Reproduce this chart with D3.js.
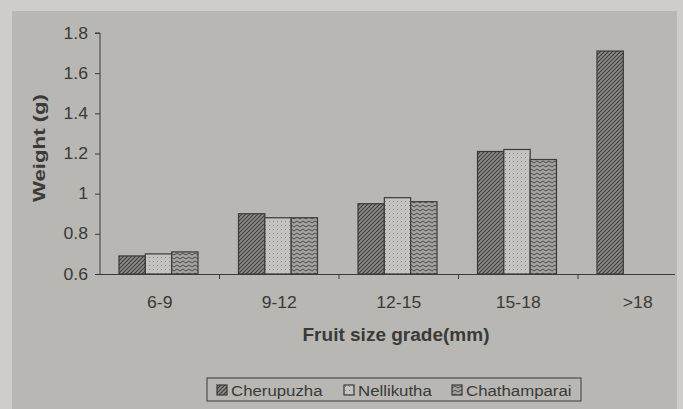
<!DOCTYPE html>
<html>
<head>
<meta charset="utf-8">
<script src="https://cdn.jsdelivr.net/npm/d3@7"></script>
<style>
  body { margin: 0; background: #cecdc9; }
  svg { display: block; font-family: "Liberation Sans", Arial, sans-serif; }
</style>
</head>
<body>
<div id="chart"></div>
<script>
// data
var grades = ["6-9", "9-12", "12-15", "15-18", ">18"];
var varieties = ["Cherupuzha", "Nellikutha", "Chathamparai"];
var cherupuzha = [0.69, 0.90, 0.95, 1.21, 1.71];
var nellikutha = [0.70, 0.88, 0.98, 1.22, null];
var chathamparai = [0.71, 0.88, 0.96, 1.17, null];
var yTicks = [0.6, 0.8, 1, 1.2, 1.4, 1.6, 1.8];

var series = [cherupuzha, nellikutha, chathamparai];

var W = 683, H = 409;
var svg = d3.select("#chart").append("svg")
  .attr("width", W).attr("height", H);

// the printed text is a bit wider than plain Arial, stretch it
function widen(sel, k) {
  sel.each(function () {
    var len = this.getComputedTextLength();
    d3.select(this).attr("textLength", len * k).attr("lengthAdjust", "spacingAndGlyphs");
  });
}

// patterns
var defs = svg.append("defs");
var p1 = defs.append("pattern").attr("id", "pat0")
  .attr("width", 4).attr("height", 4).attr("patternUnits", "userSpaceOnUse");
p1.append("rect").attr("width", 4).attr("height", 4).attr("fill", "#8e8d8a");
p1.append("path").attr("d", "M-1,1 L1,-1 M0,4 L4,0 M3,5 L5,3")
  .attr("stroke", "#3b3a38").attr("stroke-width", 1.1);

var p2 = defs.append("pattern").attr("id", "pat1")
  .attr("width", 4).attr("height", 4).attr("patternUnits", "userSpaceOnUse");
p2.append("rect").attr("width", 4).attr("height", 4).attr("fill", "#c4c3bf");
p2.append("rect").attr("x", 1).attr("y", 1).attr("width", 1).attr("height", 1).attr("fill", "#8a8986");

var p3 = defs.append("pattern").attr("id", "pat2")
  .attr("width", 6).attr("height", 4).attr("patternUnits", "userSpaceOnUse");
p3.append("rect").attr("width", 6).attr("height", 4).attr("fill", "#a3a29e");
p3.append("path").attr("d", "M0,3 L3,1 L6,3")
  .attr("stroke", "#4a4946").attr("stroke-width", 1).attr("fill", "none");

// chart frame (darker printed area)
svg.append("rect").attr("x", 12).attr("y", 11).attr("width", 665).attr("height", 398)
  .attr("fill", "#b8b7b3");

var x0 = d3.scaleBand().domain(grades).range([100, 697.5]);
var x1 = d3.scaleBand().domain(d3.range(3)).range([19, 98]).paddingInner(0);
var y = d3.scaleLinear().domain([0.6, 1.8]).range([274, 33]);

var ink = "#3a3a38";

// bars
var g = svg.append("g");
grades.forEach(function (gr, i) {
  series.forEach(function (s, j) {
    if (s[i] == null) return;
    g.append("rect")
      .attr("x", x0(gr) + x1(j))
      .attr("y", y(s[i]))
      .attr("width", x1.bandwidth())
      .attr("height", y(0.6) - y(s[i]))
      .attr("fill", "url(#pat" + j + ")")
      .attr("stroke", ink).attr("stroke-width", 1.2);
  });
});

// y axis
var yAxis = svg.append("g").attr("transform", "translate(100,0)")
  .call(d3.axisLeft(y).tickValues(yTicks).tickSize(5).tickFormat(d3.format("")));
yAxis.select(".domain").attr("stroke", ink).attr("d", "M-5," + y(1.8) + "H0V" + y(0.6));
yAxis.selectAll(".tick line").attr("stroke", ink);
yAxis.selectAll(".tick text").attr("fill", ink).attr("font-size", 16).attr("x", -12);
widen(yAxis.selectAll(".tick text"), 1.1);

// x axis
var xAxis = svg.append("g").attr("transform", "translate(0,274)")
  .call(d3.axisBottom(x0).tickSize(0));
xAxis.select(".domain").attr("stroke", ink).attr("d", "M100,0.5H675");
xAxis.selectAll(".tick text").attr("fill", ink).attr("font-size", 16)
  .attr("y", 34).attr("dy", 0);
widen(xAxis.selectAll(".tick text"), 1.1);
// boundary ticks between groups
svg.append("g").selectAll("line")
  .data(grades.slice(1))
  .join("line")
  .attr("x1", function (d) { return x0(d); }).attr("x2", function (d) { return x0(d); })
  .attr("y1", 274).attr("y2", 279)
  .attr("stroke", ink);

// axis titles
var yt = svg.append("text")
  .attr("transform", "translate(45,148) rotate(-90)")
  .attr("text-anchor", "middle")
  .attr("font-size", 16).attr("font-weight", "bold").attr("fill", ink)
  .text("Weight (g)");
yt.attr("textLength", 108).attr("lengthAdjust", "spacingAndGlyphs");

var xt = svg.append("text")
  .attr("x", 396).attr("y", 341)
  .attr("text-anchor", "middle")
  .attr("font-size", 18).attr("font-weight", "bold").attr("fill", ink)
  .text("Fruit size grade(mm)");
xt.attr("textLength", 187).attr("lengthAdjust", "spacingAndGlyphs");

// legend
var lg = svg.append("g").attr("transform", "translate(207,378)");
lg.append("rect").attr("width", 374).attr("height", 23)
  .attr("fill", "none").attr("stroke", ink).attr("stroke-width", 1);
var lx = [10, 137, 245];
varieties.forEach(function (v, j) {
  var it = lg.append("g").attr("transform", "translate(" + lx[j] + ",7)");
  it.append("rect").attr("width", 10).attr("height", 10)
    .attr("fill", "url(#pat" + j + ")").attr("stroke", ink).attr("stroke-width", 1.2);
  it.append("text").attr("x", 14).attr("y", 10.5)
    .attr("font-size", 14).attr("fill", ink).text(v);
});
widen(lg.selectAll("text"), 1.2);
</script>
</body>
</html>
